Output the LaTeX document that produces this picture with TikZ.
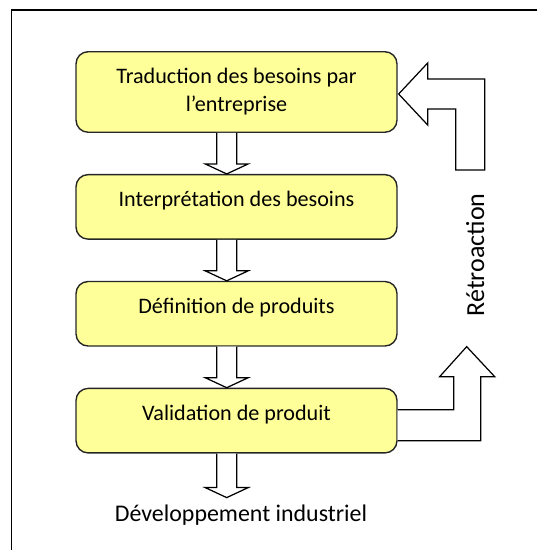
\documentclass[tikz,border=0pt]{standalone}
\usepackage{fontspec}
\setmainfont{Carlito}
\usetikzlibrary{positioning,calc}
\definecolor{jaune}{HTML}{FFFF99}
\tikzset{
  bloc/.style={draw=black!85, line width=0.8pt, fill=jaune, rounded corners=0.24cm,
    minimum width=6.42cm, minimum height=1.29cm, align=center,
    font=\fontsize{12.6}{15.9}\selectfont},
  blocligne/.style={bloc, text height=2mm, text depth=2mm},
  fleche/.style={draw=black, line width=0.7pt, fill=white},
}

\begin{document}
\begin{tikzpicture}[x=0.02cm, y=-0.02cm, node distance=0.82cm]
  \useasboundingbox (0,0) rectangle (537,550);
  \draw[line width=0.6pt] (537,10) -- (11.5,10) -- (11.5,550);

  \node[bloc, minimum height=1.61cm] (traduction) at (236.5,92) {Traduction des besoins par\\l’entreprise};
  \node[blocligne, below=of traduction] (interpretation) {Interprétation des besoins};
  \node[blocligne, below=of interpretation] (definition) {Définition de produits};
  \node[blocligne, below=of definition] (validation) {Validation de produit};

  \coordinate (axe) at (226.7,0);
  \coordinate (fin) at ($(validation.south -| axe)+(0,44)$);
  \foreach \a/\b in {traduction.south/interpretation.north, interpretation.south/definition.north,
                     definition.south/validation.north, validation.south/fin}
    \draw[fleche] ($(\a -| axe)+(-10,0)$) -- ($(\b -| axe)+(-10,-10)$) -- ($(\b -| axe)+(-21.5,-10)$)
      -- (\b -| axe) -- ($(\b -| axe)+(21.5,-10)$) -- ($(\b -| axe)+(10,-10)$) -- ($(\a -| axe)+(10,0)$);

  % retroaction
  \draw[fleche] ($(validation.east)+(0,-11)$) -- ++(56,0) -- ++(0,-33) -- ++(-14,0) -- ++(27,-30)
    -- ++(28,30) -- ++(-14,0) -- ++(0,64) -- ++(-83,0);
  \draw[fleche] ($(traduction.east)+(1,2)$) -- ++(29,-31) -- ++(0,16) -- ++(57,0) -- ++(0,91)
    -- ++(-29,0) -- ++(0,-61) -- ++(-28,0) -- ++(0,16) -- cycle;

  \node[font=\fontsize{14.8}{18}\selectfont, rotate=90, anchor=base] (retro) at (484,255) {Rétroaction};
  \node[font=\fontsize{13.6}{16}\selectfont, anchor=base] (sortie) at (241,521) {Développement industriel};
\end{tikzpicture}
\end{document}
